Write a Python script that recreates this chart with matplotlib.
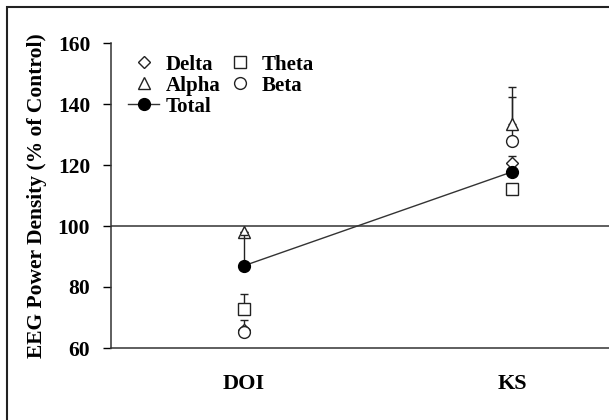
import matplotlib
matplotlib.use("Agg")
import matplotlib.pyplot as plt
from matplotlib.patches import Rectangle

groups = ["DOI", "KS"]
delta = [66, 120.5]
theta = [72.8, 112]
alpha = [98, 133.5]
beta = [65.4, 127.8]
total = [87, 117.8]
delta_err = [0, 2.5]
theta_err = [5, 0]
alpha_err = [0, 12]
beta_err = [3.8, 14.5]
total_err = [10, 0]

plt.rcParams['font.family'] = ['Liberation Serif', 'DejaVu Serif']
plt.rcParams['font.weight'] = 'bold'

fig = plt.figure(figsize=(6.09, 4.2), dpi=100)
fig.patches.append(Rectangle((7/609, -0.1), 1.2, (420-7)/420 + 0.1, transform=fig.transFigure,
                             fill=False, edgecolor='#222222', lw=1.5))
ax = fig.add_axes([111/609, (420-348)/420, 1 - 111/609 + 0.001, (348-43)/420])

x = [1, 2]
ax.axhline(100, color='#333333', lw=1.1, zorder=1)

def series(vals, errs, marker, label, filled=False, z=3, ms=8):
    ax.errorbar(x, vals, yerr=[[0]*len(errs), errs], fmt='none', ecolor='#222222',
                elinewidth=1, capsize=3, capthick=1, zorder=z-1)
    ax.plot(x, vals, linestyle='none', marker=marker, ms=ms,
            mfc='black' if filled else 'white', mec='#222222', mew=1, label=label, zorder=z)

series(delta, delta_err, 'D', 'Delta', ms=6.5)
series(theta, theta_err, 's', 'Theta', ms=8)
series(alpha, alpha_err, '^', 'Alpha', ms=9)
series(beta, beta_err, 'o', 'Beta', ms=8.5)
ax.errorbar(x, total, yerr=[[0]*2, total_err], fmt='none', ecolor='#222222',
            elinewidth=1, capsize=3, capthick=1, zorder=4)
ax.plot(x, total, color='#333333', lw=1, marker='o', ms=8.5, mfc='black', mec='black',
        label='Total', zorder=5)

ax.set_xlim(1 - 133/268, 2 + 97/268)
ax.set_ylim(60, 160)
ax.set_yticks(range(60, 161, 20))
ax.set_xticks(x)
ax.set_xticklabels(groups)
ax.tick_params(axis='x', length=0, pad=19, labelsize=16)
ax.tick_params(axis='y', direction='out', length=6, width=1, labelsize=15.5, pad=9)
for s in ['top', 'right']:
    ax.spines[s].set_visible(False)
for s in ['left', 'bottom']:
    ax.spines[s].set_color('#333333')
    ax.spines[s].set_linewidth(1.1)
ax.set_ylabel("EEG Power Density (% of Control)", fontsize=15.5, fontweight='bold', labelpad=8)

h, l = ax.get_legend_handles_labels()
order = ['Delta', 'Alpha', 'Total', 'Theta', 'Beta']
hd = dict(zip(l, h))
ax.legend([hd[k] for k in order], order, ncol=2, loc='upper left', bbox_to_anchor=(0.005, 1.01),
          frameon=False, fontsize=15, handlelength=1.5, handletextpad=0.3,
          columnspacing=0.2, labelspacing=0.05, borderpad=0.2)

fig.savefig("out.png", dpi=100)
